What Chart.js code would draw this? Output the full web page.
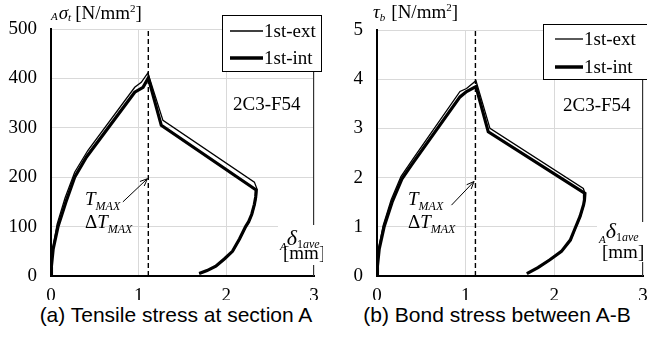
<!DOCTYPE html>
<html>
<head>
<meta charset="utf-8">
<script src="https://cdn.jsdelivr.net/npm/chart.js@4/dist/chart.umd.min.js"></script>
<style>
body{margin:0;background:#fff;width:647px;height:340px;position:relative;overflow:hidden}
canvas{position:absolute;top:0}
#chart_a{left:0}
#chart_b{left:323px}
.cap{position:absolute;top:303px;width:324px;text-align:center;font-family:"Liberation Sans",Arial,sans-serif;font-size:21px;color:#000;white-space:nowrap}
</style>
</head>
<body>
<canvas id="chart_a" width="323" height="300"></canvas>
<canvas id="chart_b" width="324" height="300"></canvas>
<div class="cap" style="left:14px">(a) Tensile stress at section A</div>
<div class="cap" style="left:335px">(b) Bond stress between A-B</div>
<script>
/* data: slip _A delta_1ave [mm] vs stress */
var xTicks = [0, 1, 2, 3];
var stressTicks = [0, 100, 200, 300, 400, 500];
var bondTicks = [0, 1, 2, 3, 4, 5];
var tmaxX = [1.11, 1.11];

// (a) tensile stress [N/mm2]
var extA_x = [0, 0.004, 0.02, 0.07, 0.16, 0.27, 0.42, 0.955, 1.03, 1.105, 1.277, 2.32, 2.35, 2.342, 2.325, 2.295, 2.26, 2.225, 2.155, 2.075, 1.985, 1.885, 1.785, 1.69];
var extA_y = [0, 20, 55, 105, 158, 210, 254, 382, 392, 411, 315, 190, 176, 160, 145, 125, 110, 100, 75, 50, 35, 20, 11, 5];
var intA_x = [0, 0.005, 0.025, 0.08, 0.17, 0.27, 0.405, 0.955, 1.05, 1.11, 1.258, 2.34, 2.335, 2.32, 2.29, 2.255, 2.22, 2.15, 2.07, 1.98, 1.88, 1.78, 1.69];
var intA_y = [0, 20, 55, 100, 150, 200, 241, 372, 382, 401, 305, 174, 160, 145, 125, 110, 100, 75, 50, 35, 20, 11, 5];

// (b) bond stress [N/mm2]
var extB_x = [0, 0.004, 0.02, 0.07, 0.16, 0.27, 0.41, 0.936, 1.01, 1.116, 1.274, 2.327, 2.35, 2.345, 2.335, 2.295, 2.265, 2.235, 2.185, 2.085, 1.955, 1.82, 1.69];
var extB_y = [0, 0.22, 0.57, 1.03, 1.55, 2.02, 2.39, 3.75, 3.81, 3.97, 3.0, 1.78, 1.66, 1.55, 1.45, 1.21, 1.08, 0.95, 0.73, 0.5, 0.33, 0.17, 0.05];
var intB_x = [0, 0.005, 0.025, 0.08, 0.17, 0.28, 0.39, 0.936, 1.01, 1.116, 1.255, 2.345, 2.34, 2.33, 2.29, 2.26, 2.23, 2.18, 2.08, 1.95, 1.815, 1.69];
var intB_y = [0, 0.2, 0.55, 1.0, 1.5, 1.97, 2.26, 3.64, 3.75, 3.85, 2.93, 1.68, 1.55, 1.45, 1.21, 1.08, 0.95, 0.73, 0.5, 0.33, 0.17, 0.05];

var SERIF = '"Liberation Serif", "Times New Roman", serif';
var R19 = '19px ' + SERIF, R11 = '11px ' + SERIF, R12 = '12px ' + SERIF;
var I19 = 'italic 19px ' + SERIF, I22 = 'italic 22px ' + SERIF, I11 = 'italic 11px ' + SERIF, I12 = 'italic 12px ' + SERIF;

function pts(xs, ys){
    return xs.map(function(v, i){ return {x: v, y: ys[i]}; });
}

// text with sub/superscripts: [text, font, dy, gapAfter]
function runs(c, x, y, parts){
    parts.forEach(function(p){
        c.font = p[1];
        c.fillText(p[0], x, y + (p[2] || 0));
        x += c.measureText(p[0]).width + (p[3] || 0);
    });
}

function overlay(cfg){
    return {
        id: 'overlay',
        afterDraw: function(chart){
            var c = chart.ctx, xs = chart.scales.x, ys = chart.scales.y;
            var L = cfg.lay, area = chart.chartArea;
            c.save();
            c.fillStyle = '#000';
            c.strokeStyle = '#000';
            c.textBaseline = 'alphabetic';

            // right frame line
            c.strokeStyle = '#333';
            c.lineWidth = 1;
            c.beginPath();
            c.moveTo(Math.round(area.right) - 0.5, area.top);
            c.lineTo(Math.round(area.right) - 0.5, area.bottom);
            c.stroke();
            c.strokeStyle = '#000';

            // axis title
            runs(c, L.yt[0], L.yt[1], cfg.yTitle);

            // legend
            c.fillStyle = '#fff';
            c.fillRect(L.leg[0], L.leg[1], L.leg[2], L.leg[3]);
            c.lineWidth = 1;
            c.strokeRect(L.leg[0] + 0.5, L.leg[1] + 0.5, L.leg[2], L.leg[3]);
            c.fillStyle = '#000';
            c.lineWidth = 1.3;
            c.beginPath(); c.moveTo(L.legLine[0], L.legLine[2]); c.lineTo(L.legLine[1], L.legLine[2]); c.stroke();
            c.lineWidth = 3.5;
            c.beginPath(); c.moveTo(L.legLine[0], L.legLine[3]); c.lineTo(L.legLine[1], L.legLine[3]); c.stroke();
            c.font = R19;
            c.fillText('1st-ext', L.legLine[1] + 1, L.legLine[2] + 6);
            c.fillText('1st-int', L.legLine[1] + 1, L.legLine[3] + 6);

            // specimen
            c.fillText('2C3-F54', L.spec[0], L.spec[1]);

            // T_MAX arrow
            var x0 = xs.getPixelForValue(cfg.arrow[0]), y0 = ys.getPixelForValue(cfg.arrow[1]);
            var x1 = xs.getPixelForValue(cfg.arrow[2]), y1 = ys.getPixelForValue(cfg.arrow[3]);
            var a = Math.atan2(y1 - y0, x1 - x0);
            c.lineWidth = 1;
            c.beginPath();
            c.moveTo(x0, y0); c.lineTo(x1, y1);
            c.moveTo(x1 - 8 * Math.cos(a - 0.4), y1 - 8 * Math.sin(a - 0.4));
            c.lineTo(x1, y1);
            c.lineTo(x1 - 8 * Math.cos(a + 0.4), y1 - 8 * Math.sin(a + 0.4));
            c.stroke();
            runs(c, 85, 205, [['T', I19, 0, 0], ['MAX', I12, 5]]);
            runs(c, 85, 228, [['\u0394', R19, 0, 0], ['T', I19, 0, 0], ['MAX', I12, 5]]);

            // x label
            c.fillStyle = '#fff';
            c.fillRect(L.xl[0], L.xl[1], L.xl[2], L.xl[3]);
            c.fillStyle = '#000';
            runs(c, L.xl[0] + 2, L.xl[4], [['A', I11, 5, 0], ['\u03b4', I22, 0, 0], ['1', R12, 3, 0], ['ave', I12, 3]]);
            c.font = R19;
            c.fillText('[mm]', L.xl[0] + 5, L.xl[5]);
            c.restore();
        }
    };
}

function makeChart(id, cfg){
    var yT = cfg.yTicks;
    return new Chart(document.getElementById(id).getContext('2d'), {
        type: 'line',
        data: {
            datasets: [
                {label: '1st-ext', data: pts(cfg.extX, cfg.extY), borderColor: '#000', borderWidth: 1.3, pointRadius: 0, tension: 0},
                {label: '1st-int', data: pts(cfg.intX, cfg.intY), borderColor: '#000', borderWidth: 3.2, pointRadius: 0, tension: 0},
                {label: 'Tmax', data: pts(tmaxX, [yT[0], yT[yT.length - 1]]), borderColor: '#000', borderWidth: 1.4, borderDash: [5, 3], pointRadius: 0}
            ]
        },
        options: {
            animation: false,
            responsive: false,
            layout: {padding: {top: cfg.top, right: cfg.right, left: 0, bottom: 0}},
            plugins: {legend: {display: false}, tooltip: {enabled: false}},
            scales: {
                x: {
                    type: 'linear', min: xTicks[0], max: xTicks[xTicks.length - 1],
                    ticks: {stepSize: 1, padding: 9, color: '#000', font: {family: SERIF, size: 19}},
                    grid: {color: '#d9d9d9', tickLength: 0},
                    border: {color: '#000', width: 2},
                    afterFit: function(s){ s.height = 24; s.paddingLeft = 0; s.paddingRight = 0; }
                },
                y: {
                    type: 'linear', min: yT[0], max: yT[yT.length - 1],
                    ticks: {stepSize: yT[1] - yT[0], padding: 14, color: '#000', font: {family: SERIF, size: 19}},
                    grid: {color: '#d9d9d9', tickLength: 0},
                    border: {color: '#000', width: 2},
                    afterFit: function(s){ s.width = cfg.yw; s.paddingTop = 0; s.paddingBottom = 0; }
                }
            }
        },
        plugins: [overlay(cfg)]
    });
}

makeChart('chart_a', {
    extX: extA_x, extY: extA_y, intX: intA_x, intY: intA_y, yTicks: stressTicks,
    top: 29, right: 9, yw: 51,
    arrow: [0.82, 150, 1.10, 197],
    yTitle: [['A', I11, 1, 1], ['\u03c3', I19, 0, 0], ['t', I11, 2, 4], ['[N/mm', R19], ['2', R11, -7], [']', R19]],
    lay: {yt: [51, 19], leg: [222, 15, 99, 56], legLine: [230, 263, 31, 58], spec: [233, 110],
          xl: [278, 225, 44, 40, 245, 259]}
});

makeChart('chart_b', {
    extX: extB_x, extY: extB_y, intX: intB_x, intY: intB_y, yTicks: bondTicks,
    top: 30, right: 4, yw: 54,
    arrow: [0.84, 1.44, 1.094, 1.92],
    yTitle: [['\u03c4', I19, 0, 0], ['b', I11, 3, 6], ['[N/mm', R19], ['2', R11, -7], [']', R19]],
    lay: {yt: [50, 18], leg: [220, 24, 110, 55], legLine: [232, 260, 39, 67], spec: [240, 111],
          xl: [274, 222, 50, 40, 238, 258]}
});
</script>
</body>
</html>
